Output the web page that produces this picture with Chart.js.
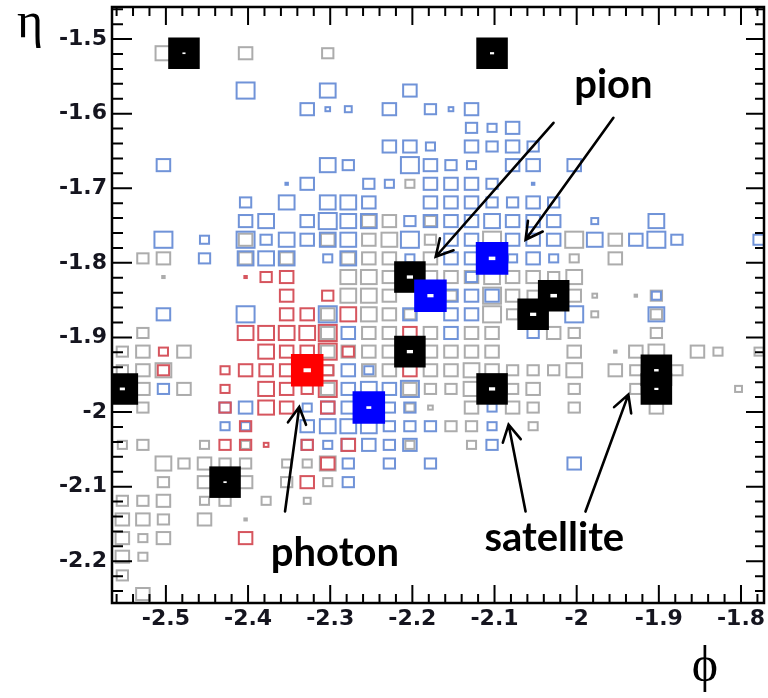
<!DOCTYPE html>
<html>
<head>
<meta charset="utf-8">
<script src="https://cdn.jsdelivr.net/npm/chart.js@4.4.1/dist/chart.umd.min.js"></script>
<style>
  html, body { margin: 0; padding: 0; background: #fff; }
</style>
</head>
<body>
<canvas id="c" width="768" height="698"></canvas>
<script>
// bin centres of the 2D histogram
const phiBins = [-2.553, -2.528, -2.503, -2.478, -2.453, -2.428, -2.403, -2.378,
                 -2.353, -2.328, -2.303, -2.278, -2.253, -2.228, -2.203, -2.178,
                 -2.153, -2.128, -2.103, -2.078, -2.053, -2.028, -2.003, -1.978,
                 -1.953, -1.928, -1.903, -1.878, -1.853, -1.828, -1.803, -1.778];
const etaBins = [-1.469, -1.494, -1.519, -1.544, -1.569, -1.594, -1.619, -1.644,
                 -1.669, -1.694, -1.719, -1.744, -1.769, -1.794, -1.819, -1.844,
                 -1.869, -1.894, -1.919, -1.944, -1.969, -1.994, -2.019, -2.044,
                 -2.069, -2.094, -2.119, -2.144, -2.169, -2.194, -2.219, -2.244];
const binW = 0.025, binH = 0.025;

const phiTicks = [-2.5, -2.4, -2.3, -2.2, -2.1, -2.0, -1.9, -1.8];
const etaTicks = [-2.2, -2.1, -2.0, -1.9, -1.8, -1.7, -1.6, -1.5];

// cell content per eta row (one char per phi bin, '.' = empty, 1..9 = box size)
const E = '........ ........ ........ ........';
const grayCells = [
  E, E,
  '..8...7. ..6..... ........ ........',
  E, E, E, E, E, E,
  '........ ......5. ........ ........',
  E,
  '........ ....77.6 ........ ........',
  '......7. ..7.78.6 ..9...9. 7.......',
  '.67...7. 7..777.7 ......5. 7.......',
  '..2..... ...887.7 7787768. ........',
  '........ ...887.. 6.976.73 .26.....',
  '........ ..7.876. ..96...4 ..6.....',
  '.6...... ..7.77.7 .77..76. ..6.....',
  '67.7.... ..7777.7 777...7. 278.75.5',
  '678..... ..6.77.7 7876668. 76.6....',
  '.7.7.... ..7...76 68.67.6. .6....4.',
  '.6...... ......53 .7.76.6. ..7.....',
  '........ ........ 66..5... ........',
  '56..5.5. ......5. .5...... ........',
  '..86766. 558..... ........ ........',
  '..6.7.7. 6.5..... ........ ........',
  '667.56.5 .4...... ........ ........',
  '776.7.2. ........ ........ ........',
  '757..... ........ ........ ........',
  '75...... ........ ........ ........',
  '6....... ........ ........ ........',
  '.7...... ........ ........ ........'
];
const blueCells = [
  E, E, E, E,
  '......9. ..8...7. ........ ........',
  '........ .734.7.6 37...... ........',
  '........ ........ .657.... ........',
  '........ .....775 .7676... ........',
  '..7..... ..86..97 65.77.7. ........',
  '........ 27..65.7 776.2... ........',
  '......6. 8.887..7 776676.. ........',
  '......78 .7988.67 778777.4 ..8.....',
  '..9.5.96 8788..9. 77.777.8 .796...6',
  '....6.88 8.58..5. 77.575.. ........',
  '........ ........ .6...... ........',
  '........ ........ 777..... ..5.....',
  '..7...9. ..9...7. 77....9. ..8.....',
  '........ ...7.... 7...6... ........',
  E,
  '........ ...75... ........ ........',
  '..6..... ...7879. ........ ........',
  '.....67. .577.66. ..5..... ........',
  '.....55. .7888666 ..5..... ........',
  '........ .657767. ..6..... ........',
  '........ ...6.6.6 ......7. ........',
  '........ ...6.... ........ ........',
  E, E, E, E, E, E
];
const redCells = [
  E, E, E, E, E, E, E, E, E, E, E, E, E, E,
  '......26 7....... ........ ........',
  '........ 7.6..... ........ ........',
  '........ 77.8.... ........ ........',
  '......88 889...7. ........ ........',
  '..5....8 7796.... ........ ........',
  '..6..577 7.6...7. ........ ........',
  '.....5.8 769..... ........ ........',
  '.....6.8 7.7..... ........ ........',
  '......6. ........ ........ ........',
  '.....663 .6.7.... ........ ........',
  '........ ..7..... ........ ........',
  '........ .7...... ........ ........',
  E, E,
  '......7. ........ ........ ........',
  E, E, E
];

// cluster seeds (filled markers) and their centre cell content
const blackPhi  = [-2.478, -2.103, -2.203, -2.028, -2.053, -2.203, -1.903, -2.553, -2.103, -1.903, -2.428];
const blackEta  = [-1.519, -1.519, -1.819, -1.844, -1.869, -1.919, -1.944, -1.969, -1.969, -1.969, -2.094];
const blackCore = [1.5, 2, 3, 3.2, 3, 3, 2.2, 2.5, 3, 2, 1.6];
const bluePhi   = [-2.103, -2.178, -2.253];
const blueEta   = [-1.794, -1.844, -1.994];
const blueCore  = [3.2, 3, 2.4];
const redPhi    = [-2.328];
const redEta    = [-1.944];
const redCore   = [3.6];

// annotation texts and arrows (phi, eta)
const labels = [
  { text: 'pion', phi: -1.9553, eta: -1.5787 },
  { text: 'photon', phi: -2.2943, eta: -2.2060 },
  { text: 'satellite', phi: -2.0272, eta: -2.1869 }
];
const arrows = [
  [-2.0282, -1.6122, -2.1716, -1.7918],
  [-1.9553, -1.6055, -2.0622, -1.7690],
  [-2.3550, -2.1334, -2.3377, -1.9933],
  [-2.0622, -2.1334, -2.0829, -2.0168],
  [-1.9893, -2.1334, -1.9371, -1.9766]
];

const fmt = v => String(Math.round(v * 10) / 10);

function toPoints(rows) {
  const pts = [];
  rows.forEach((row, r) => {
    const s = row.replace(/ /g, '');
    for (let c = 0; c < s.length; c++) {
      if (s[c] !== '.') pts.push({ x: phiBins[c], y: etaBins[r], v: Number(s[c]) });
    }
  });
  return pts;
}
function toSeeds(phi, eta, core) {
  return phi.map((p, i) => ({ x: p, y: eta[i], core: core[i] }));
}

function drawArrow(ctx, x0, y0, x1, y1) {
  const ang = Math.atan2(y1 - y0, x1 - x0), L = 19, s = 0.5;
  ctx.beginPath();
  ctx.moveTo(x0, y0);
  ctx.lineTo(x1, y1);
  ctx.moveTo(x1 - L * Math.cos(ang - s), y1 - L * Math.sin(ang - s));
  ctx.lineTo(x1, y1);
  ctx.lineTo(x1 - L * Math.cos(ang + s), y1 - L * Math.sin(ang + s));
  ctx.stroke();
}

// no label overflow padding, the frame sits where the axes say
function fixPadding(s) {
  s.paddingLeft = 0; s.paddingRight = 0; s.paddingTop = 0; s.paddingBottom = 0;
}

const boxPlugin = {
  id: 'boxes',
  beforeDatasetsDraw(chart) {
    const { ctx, chartArea: a, scales: { x, y } } = chart;
    ctx.save();
    ctx.beginPath();
    ctx.rect(a.left, a.top, a.right - a.left, a.bottom - a.top);
    ctx.clip();
    ctx.lineWidth = 2;
    chart.data.datasets.forEach(ds => {
      if (!ds.boxColor) return;
      ctx.strokeStyle = ds.boxColor;
      ds.data.forEach(p => {
        const f = p.v * 0.054;
        const hw = f * binW, hh = f * binH;
        const x0 = x.getPixelForValue(p.x - hw), x1 = x.getPixelForValue(p.x + hw);
        const y0 = y.getPixelForValue(p.y + hh), y1 = y.getPixelForValue(p.y - hh);
        ctx.strokeRect(x0 + 1, y0 + 1, Math.max(x1 - x0 - 2, 1), Math.max(y1 - y0 - 2, 1));
      });
    });
    ctx.restore();
  },
  afterDatasetsDraw(chart) {
    const { ctx, chartArea: a, scales: { x, y } } = chart;
    ctx.save();
    // white centre of the seed markers
    ctx.fillStyle = '#fff';
    chart.data.datasets.forEach(ds => {
      if (!ds.seed) return;
      ds.data.forEach(p => {
        const hw = p.core / 20 * binW, hh = p.core / 34 * binH;
        const x0 = x.getPixelForValue(p.x - hw), x1 = x.getPixelForValue(p.x + hw);
        const y0 = y.getPixelForValue(p.y + hh), y1 = y.getPixelForValue(p.y - hh);
        ctx.fillRect(x0, y0, x1 - x0, y1 - y0);
      });
    });

    // arrows and labels
    ctx.strokeStyle = '#000';
    ctx.lineWidth = 2.6;
    ctx.lineCap = 'round';
    arrows.forEach(ar => {
      drawArrow(ctx, x.getPixelForValue(ar[0]), y.getPixelForValue(ar[1]),
                x.getPixelForValue(ar[2]), y.getPixelForValue(ar[3]));
    });
    ctx.fillStyle = '#000';
    ctx.font = 'bold 40px Lato, "Open Sans", sans-serif';
    ctx.textAlign = 'center';
    ctx.textBaseline = 'alphabetic';
    labels.forEach(l => ctx.fillText(l.text, x.getPixelForValue(l.phi), y.getPixelForValue(l.eta)));

    // frame and inner tick marks
    ctx.lineCap = 'butt';
    ctx.lineWidth = 2.5;
    ctx.strokeRect(a.left, a.top, a.right - a.left, a.bottom - a.top);
    ctx.lineWidth = 2;
    ctx.beginPath();
    for (let k = Math.ceil(x.min * 50); k <= Math.floor(x.max * 50); k++) {
      const px = x.getPixelForValue(k / 50), len = k % 5 === 0 ? 18 : 9;
      ctx.moveTo(px, a.bottom); ctx.lineTo(px, a.bottom - len);
      ctx.moveTo(px, a.top); ctx.lineTo(px, a.top + len);
    }
    for (let k = Math.ceil(y.min * 50); k <= Math.floor(y.max * 50); k++) {
      const py = y.getPixelForValue(k / 50), major = k % 5 === 0;
      ctx.moveTo(a.left, py); ctx.lineTo(a.left + (major ? 20 : 11), py);
      ctx.moveTo(a.right, py); ctx.lineTo(a.right - (major ? 18 : 9), py);
    }
    ctx.stroke();
    ctx.restore();
  },
  afterDraw(chart) {
    const { ctx, chartArea: a, scales: { x } } = chart;
    ctx.save();
    ctx.fillStyle = '#000';
    ctx.font = '50px "Liberation Serif", "DejaVu Serif", serif';
    ctx.textAlign = 'center';
    ctx.textBaseline = 'alphabetic';
    ctx.fillText('η', a.left - 82, a.top + 30);
    ctx.fillText('ϕ', x.getPixelForValue(-1.8) - 36, a.bottom + 78);
    ctx.restore();
  }
};

const tickFont = { family: '"DejaVu Sans", sans-serif', weight: 'bold', size: 22 };

new Chart(document.getElementById('c'), {
  type: 'scatter',
  data: {
    datasets: [
      { label: 'red seed', data: toSeeds(redPhi, redEta, redCore), seed: true,
        pointStyle: 'rect', pointRadius: 23, backgroundColor: '#ff0000', borderWidth: 0, order: 1 },
      { label: 'blue seeds', data: toSeeds(bluePhi, blueEta, blueCore), seed: true,
        pointStyle: 'rect', pointRadius: 23, backgroundColor: '#0000ff', borderWidth: 0, order: 2 },
      { label: 'black seeds', data: toSeeds(blackPhi, blackEta, blackCore), seed: true,
        pointStyle: 'rect', pointRadius: 22.3, backgroundColor: '#000000', borderWidth: 0, order: 3 },
      { label: 'all cells', data: toPoints(grayCells), boxColor: '#acacac', pointRadius: 0, order: 6 },
      { label: 'pion cells', data: toPoints(blueCells), boxColor: '#7093d8', pointRadius: 0, order: 5 },
      { label: 'photon cells', data: toPoints(redCells), boxColor: '#d6555e', pointRadius: 0, order: 4 }
    ]
  },
  options: {
    responsive: false,
    animation: false,
    events: [],
    layout: { autoPadding: false, padding: { top: 7, right: 4, left: 0, bottom: 0 } },
    plugins: { legend: { display: false }, tooltip: { enabled: false } },
    scales: {
      x: {
        type: 'linear', min: -2.5656, max: -1.772,
        grid: { display: false, drawTicks: false },
        border: { display: false },
        ticks: { font: tickFont, color: '#15151f', padding: 3, autoSkip: false, maxRotation: 0, callback: fmt },
        afterBuildTicks: s => { s.ticks = phiTicks.map(v => ({ value: v })); },
        afterFit: s => { s.height = 95; fixPadding(s); }
      },
      y: {
        type: 'linear', min: -2.256, max: -1.457,
        grid: { display: false, drawTicks: false },
        border: { display: false },
        ticks: { font: tickFont, color: '#15151f', padding: 5, autoSkip: false, callback: fmt },
        afterBuildTicks: s => { s.ticks = etaTicks.map(v => ({ value: v })); },
        afterFit: s => { s.width = 112; fixPadding(s); }
      }
    }
  },
  plugins: [boxPlugin]
});
</script>
</body>
</html>
